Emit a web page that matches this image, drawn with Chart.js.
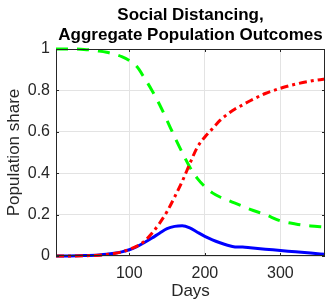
<!DOCTYPE html>
<html>
<head>
<meta charset="utf-8">
<script src="https://cdn.jsdelivr.net/npm/chart.js@4/dist/chart.umd.min.js"></script>
<style>
  html, body { margin: 0; padding: 0; background: #fff; }
  canvas { display: block; }
</style>
</head>
<body>
<canvas id="myChart" width="329" height="302"></canvas>
<script>
// values
const days = [3, 20, 40, 60, 70, 80, 90, 100, 110, 120, 130, 140, 150, 160, 170, 180, 190, 200, 210, 220, 230, 240, 250, 260, 280, 300, 320, 340, 359];
const susceptible = [1.0, 1.0, 0.998, 0.99, 0.984, 0.975, 0.963, 0.945, 0.915, 0.86, 0.80, 0.732, 0.655, 0.575, 0.50, 0.43, 0.375, 0.335, 0.305, 0.285, 0.27, 0.255, 0.24, 0.225, 0.20, 0.17, 0.155, 0.145, 0.14];
const recovered = [0, 0, 0.001, 0.004, 0.007, 0.012, 0.02, 0.032, 0.048, 0.072, 0.11, 0.158, 0.215, 0.285, 0.36, 0.445, 0.525, 0.575, 0.615, 0.655, 0.685, 0.71, 0.73, 0.75, 0.785, 0.81, 0.83, 0.845, 0.855];
const infected = [0, 0.0005, 0.002, 0.005, 0.008, 0.013, 0.02, 0.03, 0.045, 0.065, 0.087, 0.11, 0.132, 0.143, 0.146, 0.136, 0.115, 0.095, 0.078, 0.064, 0.052, 0.044, 0.043, 0.04, 0.033, 0.027, 0.02, 0.014, 0.008];
const xTicks = [100, 200, 300];
const yTicks = [0, 0.2, 0.4, 0.6, 0.8, 1];

const textColor = '#262626';
const gridColor = '#e3e3e3';
const fontFamily = '"Liberation Sans", Arial, Helvetica, sans-serif';

function points(ys) {
    return days.map((d, i) => ({ x: d, y: ys[i] }));
}

// box round the axes + small inward tick marks, like matlab
const axesBox = {
    id: 'axesBox',
    afterDatasetsDraw(chart) {
        const { ctx, chartArea: a, scales } = chart;
        ctx.save();
        ctx.strokeStyle = textColor;
        ctx.lineWidth = 1;
        ctx.beginPath();
        xTicks.forEach(v => {
            const px = Math.round(scales.x.getPixelForValue(v)) + 0.5;
            ctx.moveTo(px, a.bottom); ctx.lineTo(px, a.bottom - 3);
            ctx.moveTo(px, a.top); ctx.lineTo(px, a.top + 3);
        });
        yTicks.forEach(v => {
            const py = Math.round(scales.y.getPixelForValue(v)) + 0.5;
            ctx.moveTo(a.left, py); ctx.lineTo(a.left + 3, py);
            ctx.moveTo(a.right, py); ctx.lineTo(a.right - 3, py);
        });
        ctx.stroke();
        ctx.strokeRect(Math.round(a.left) + 0.5, Math.round(a.top) + 0.5,
            Math.round(a.right - a.left) - 1, Math.round(a.bottom - a.top) - 1);
        ctx.restore();
    }
};

const ctx = document.getElementById('myChart').getContext('2d');
const chart = new Chart(ctx, {
    type: 'line',
    data: {
        datasets: [{
            label: 'Recovered',
            data: points(recovered),
            borderColor: '#ff0000',
            borderWidth: 3,
            borderDash: [8, 4, 3, 4],
            order: 1
        }, {
            label: 'Infected',
            data: points(infected),
            borderColor: '#0000ff',
            borderWidth: 3,
            order: 2
        }, {
            label: 'Susceptible',
            data: points(susceptible),
            borderColor: '#00ff00',
            borderWidth: 3,
            borderDash: [12, 9],
            order: 3
        }]
    },
    options: {
        responsive: false,
        animation: false,
        devicePixelRatio: 1,
        layout: { padding: { left: 0, right: 4, top: 0, bottom: 0 } },
        elements: {
            point: { radius: 0 },
            line: { cubicInterpolationMode: 'monotone', fill: false, borderCapStyle: 'butt' }
        },
        datasets: { line: { clip: 5 } },
        plugins: {
            legend: { display: false },
            tooltip: { enabled: false },
            title: {
                display: true,
                fullSize: false,
                text: ['Social Distancing,', 'Aggregate Population Outcomes'],
                color: '#000',
                font: { family: fontFamily, size: 17, weight: 'bold', lineHeight: '20px' },
                padding: { top: 5.5, bottom: 3.5 }
            }
        },
        scales: {
            x: {
                type: 'linear',
                min: 3,
                max: 359,
                afterBuildTicks: s => { s.ticks = xTicks.map(v => ({ value: v })); },
                afterFit: s => { s.height = 46; },
                grid: { color: gridColor, drawTicks: false },
                border: { display: false },
                ticks: { color: textColor, padding: 8, maxRotation: 0, font: { family: fontFamily, size: 16 } },
                title: {
                    display: true,
                    text: 'Days',
                    color: textColor,
                    font: { family: fontFamily, size: 17 },
                    padding: { top: 0, bottom: 0 }
                }
            },
            y: {
                min: 0,
                max: 1,
                afterBuildTicks: s => { s.ticks = yTicks.map(v => ({ value: v })); },
                afterFit: s => { s.width = 56; },
                grid: { color: gridColor, drawTicks: false },
                border: { display: false },
                ticks: {
                    color: textColor,
                    padding: 6,
                    font: { family: fontFamily, size: 16 },
                    callback: v => String(+v.toFixed(2))
                },
                title: {
                    display: true,
                    text: 'Population share',
                    color: textColor,
                    font: { family: fontFamily, size: 17 },
                    padding: { top: 4, bottom: 0 }
                }
            }
        }
    },
    plugins: [axesBox]
});
</script>
</body>
</html>
